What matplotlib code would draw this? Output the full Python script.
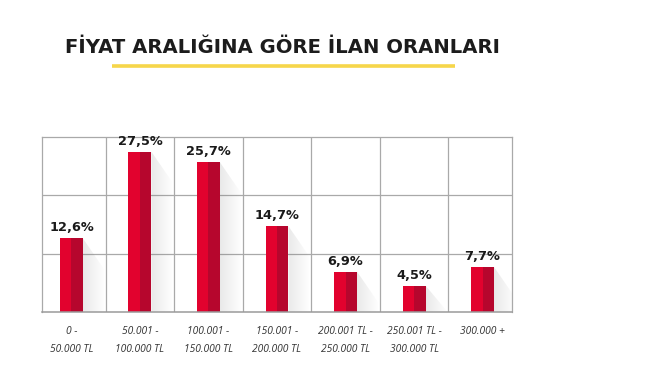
import numpy as np
import matplotlib
matplotlib.use("Agg")
import matplotlib.pyplot as plt
from matplotlib.patches import Polygon
from matplotlib.lines import Line2D

title = "FİYAT ARALIĞINA GÖRE İLAN ORANLARI"
categories = ["0 -\n50.000 TL", "50.001 -\n100.000 TL", "100.001 -\n150.000 TL",
              "150.001 -\n200.000 TL", "200.001 TL -\n250.000 TL",
              "250.001 TL -\n300.000 TL", "300.000 +"]
values = [12.6, 27.5, 25.7, 14.7, 6.9, 4.5, 7.7]
value_labels = ["12,6%", "27,5%", "25,7%", "14,7%", "6,9%", "4,5%", "7,7%"]

RED_L = "#e2022e"
RED_R = "#b6062d"
GRID = "#a9a9a9"

fig = plt.figure(figsize=(6.7, 3.72), dpi=100)
ax = fig.add_axes([42/670, 60.3/372, 470/670, 174.4/372])

n = len(values)
x = np.arange(n)
bw = 0.335

# grid
for k in range(n - 1):
    ax.axvline(k + 0.5, color=GRID, lw=0.9, zorder=0)
for yv in (10, 20):
    ax.axhline(yv, color=GRID, lw=0.9, zorder=0)
for s in ax.spines.values():
    s.set_color(GRID)
    s.set_linewidth(0.9)
ax.spines["bottom"].set_color("#9a9a9a")
ax.spines["bottom"].set_linewidth(1.1)

# shadows
ws = 0.32
grad = np.zeros((2, 64, 4))
grad[..., :3] = 0.45
grad[..., 3] = np.linspace(0.16, 0.0, 64)[None, :]
for xi, v in zip(x, values):
    xr = xi + bw / 2
    drop = 1.45 * ws * 68.5 / 5.82
    poly = Polygon([(xr, v), (xr + ws, max(v - drop, 0)), (xr + ws, 0), (xr, 0)],
                   closed=True, transform=ax.transData, facecolor="none", edgecolor="none")
    ax.add_patch(poly)
    im = ax.imshow(grad, extent=[xr, xr + ws, 0, v], aspect="auto",
                   interpolation="bilinear", zorder=1)
    im.set_clip_path(poly)

# bars (two-tone)
ax.bar(x - bw / 4, values, width=bw / 2, color=RED_L, zorder=2, linewidth=0)
ax.bar(x + bw / 4, values, width=bw / 2, color=RED_R, zorder=2, linewidth=0)

for xi, v, lab in zip(x, values, value_labels):
    ax.annotate(lab, (xi, v), xytext=(0, 7), textcoords="offset pixels",
                ha="center", va="baseline", fontsize=9.3, fontweight="bold",
                family=["DejaVu Sans"], color="#1a1a1a", zorder=3)

ax.set_xlim(-0.43, n - 1 + 0.43)
ax.set_ylim(0, 30)
ax.set_yticks([])
ax.set_xticks(x)
ax.set_xticklabels(categories, fontsize=7.4, fontstyle="italic", color="#333333",
                   family=["Open Sans", "DejaVu Sans"], linespacing=1.9)
ax.tick_params(axis="x", length=0, pad=10)

fig.text(282.5/670, (372 - 47.5)/372, title, ha="center", va="center",
         fontsize=14.1, fontweight="bold", family=["DejaVu Sans"],
         color="#1c1c1c")
fig.add_artist(Line2D([112/670, 455/670], [(372 - 66)/372] * 2,
                      transform=fig.transFigure, color="#f6d64a", lw=2.6,
                      solid_capstyle="butt"))

fig.savefig("out.png", dpi=100, facecolor="white")
